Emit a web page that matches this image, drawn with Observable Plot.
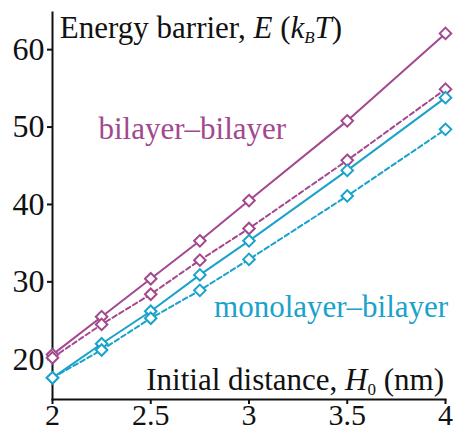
<!DOCTYPE html>
<html>
<head>
<meta charset="utf-8">
<script src="https://cdn.jsdelivr.net/npm/d3@7"></script>
<script src="https://cdn.jsdelivr.net/npm/@observablehq/plot@0.6"></script>
<style>
  html, body { margin: 0; padding: 0; background: #fff; }
  #chart svg { display: block; }
  #chart svg, #chart svg text, #chart svg tspan { font-family: "Liberation Serif", "Times New Roman", serif !important; }
</style>
</head>
<body>
<div id="chart"></div>
<script>
// ---- data ----
const distance = [2, 2.25, 2.5, 2.75, 3, 3.5, 4];
const bilayerSolid  = [20.6, 25.5, 30.4, 35.3, 40.5, 50.8, 62.1];
const bilayerDashed = [20.2, 24.5, 28.4, 32.8, 36.9, 45.7, 54.9];
const monoSolid     = [17.6, 22.0, 26.2, 30.9, 35.3, 44.4, 53.8];
const monoDashed    = [17.6, 21.2, 25.3, 28.9, 32.9, 41.1, 49.7];
const xTicks = [2, 2.5, 3, 3.5, 4];
const yTicks = [20, 30, 40, 50, 60];
const seriesNames = ["bilayer–bilayer", "monolayer–bilayer"];
const xTitle = ["Initial distance, ", "H", "0", " (nm)"];
const yTitle = ["Energy barrier, ", "E", " (", "k", "B", "T", ")"];

// ---- build table ----
const PURPLE = "#a3488f", CYAN = "#19a2cb";
const seriesDefs = [
  {name: "bs", values: bilayerSolid,  color: PURPLE, dash: null},
  {name: "bd", values: bilayerDashed, color: PURPLE, dash: "5,3"},
  {name: "ms", values: monoSolid,     color: CYAN,   dash: null},
  {name: "md", values: monoDashed,    color: CYAN,   dash: "5,3"}
];
const rows = s => distance.map((x, i) => ({x, y: s.values[i]}));

const lineMarks = [];
const dotMarks = [];
for (const s of seriesDefs) {
  lineMarks.push(Plot.line(rows(s), {x: "x", y: "y", stroke: s.color, strokeWidth: 2, strokeDasharray: s.dash}));
  dotMarks.push(Plot.dot(rows(s), {x: "x", y: "y", symbol: "diamond2", r: 5.2, stroke: s.color, fill: "white", strokeWidth: 2}));
}

const FONT = "'Liberation Serif', 'Times New Roman', serif";
const chart = Plot.plot({
  width: 457,
  height: 430,
  marginLeft: 52,
  marginRight: 12,
  marginTop: 12,
  marginBottom: 31,
  style: {fontFamily: FONT, background: "#fff", color: "#111"},
  x: {domain: [2, 4]},
  y: {domain: [14.8, 64.8]},
  marks: [
    Plot.axisX({ticks: xTicks, tickSize: 5, tickPadding: -1, fontSize: 30, fontFamily: FONT, label: null, strokeWidth: 2, tickFormat: d => String(d)}),
    Plot.axisY({ticks: yTicks, tickSize: 5, tickPadding: 3, fontSize: 32, fontFamily: FONT, label: null, strokeWidth: 2}),
    Plot.frame({anchor: "left", stroke: "#111", strokeWidth: 2}),
    Plot.frame({anchor: "bottom", stroke: "#111", strokeWidth: 2}),
    ...lineMarks,
    ...dotMarks,
    Plot.text([seriesNames[0]], {x: () => 2.234, y: () => 49.3, text: d => d, textAnchor: "start", lineAnchor: "bottom", fill: PURPLE, fontSize: 31, fontFamily: FONT, dy: 7}),
    Plot.text([seriesNames[1]], {x: () => 2.822, y: () => 26.3, text: d => d, textAnchor: "start", lineAnchor: "bottom", fill: CYAN, fontSize: 31, fontFamily: FONT, dy: 7})
  ]
});
document.getElementById("chart").appendChild(chart);

// ---- rich-text axis titles (italic symbols, subscripts) ----
const sx = chart.scale("x"), sy = chart.scale("y");
const svg = d3.select(chart);
const ty = svg.append("text")
  .attr("x", sx.apply(2.04)).attr("y", sy.apply(61.4))
  .attr("font-size", 31).attr("fill", "#111").attr("text-anchor", "start");
ty.append("tspan").text(yTitle[0]);
ty.append("tspan").attr("font-style", "italic").text(yTitle[1]);
ty.append("tspan").text(yTitle[2]);
ty.append("tspan").attr("font-style", "italic").text(yTitle[3]);
ty.append("tspan").attr("font-style", "italic").attr("font-size", 17).attr("dy", 5).text(yTitle[4]);
ty.append("tspan").attr("font-style", "italic").attr("dy", -5).text(yTitle[5]);
ty.append("tspan").text(yTitle[6]);

const tx = svg.append("text")
  .attr("x", sx.apply(3.995)).attr("y", sy.apply(16.0))
  .attr("font-size", 31).attr("fill", "#111").attr("text-anchor", "end");
tx.append("tspan").text(xTitle[0]);
tx.append("tspan").attr("font-style", "italic").text(xTitle[1]);
tx.append("tspan").attr("font-size", 17).attr("dy", 5).text(xTitle[2]);
tx.append("tspan").attr("dy", -5).text(xTitle[3]);
</script>
</body>
</html>
